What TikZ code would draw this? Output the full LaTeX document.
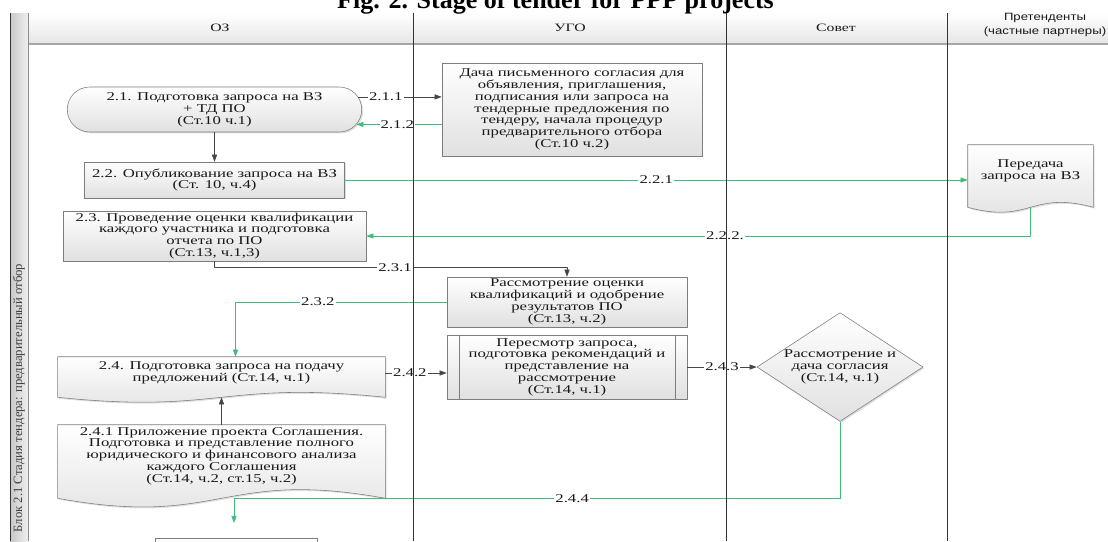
\documentclass[tikz,border=0pt]{standalone}
\usepackage{fontspec}
\setmainfont{Liberation Serif}
\newfontfamily\boxfont{Liberation Serif}[FakeStretch=1.4]
\newfontfamily\hdrsans{Liberation Sans}[FakeStretch=1.25]
\usepackage{tikz}
\usetikzlibrary{arrows.meta,calc,shapes.geometric,shapes.misc,shadows,backgrounds}
\definecolor{flowgreen}{RGB}{60,190,120}
\definecolor{linegray}{RGB}{70,70,70}
\definecolor{boxline}{RGB}{125,125,125}
\definecolor{txtgray}{RGB}{25,25,25}
\newcommand\boxtext{\boxfont\fontsize{8.5}{8.4}\selectfont}
\newcommand\docshape[3]{%
  \coordinate (#1-bl) at ($(#1.south west)+(0,#2)$);
  \coordinate (#1-br) at ($(#1.south east)+(0,#2)$);
  \coordinate (#1-base) at ($(#1.south)+(0,#2)$);
  \begin{scope}[on background layer]
    \path[draw=boxline, top color=white, bottom color=black!12,
      drop shadow={opacity=0.25,shadow xshift=1pt,shadow yshift=-1pt}]
      (#1.north west) -- (#1.north east) -- (#1-br)
      .. controls ($(#1-base)+(0,-#3)$) and ($(#1-base)+(0,#3)$) .. (#1-bl) -- cycle;
  \end{scope}}

\begin{document}
\begin{tikzpicture}[x=0.025cm, y=-0.025cm, >={Triangle[length=5pt,width=3.6pt]}, line join=round,
  procbox/.style={draw=boxline, top color=white, bottom color=black!12, text=txtgray,
    font=\boxtext, align=center, inner sep=1pt,
    drop shadow={opacity=0.25,shadow xshift=1pt,shadow yshift=-1pt}},
  docbox/.style={text=txtgray, font=\boxtext, align=center, inner sep=1pt},
  decbox/.style={procbox, diamond, aspect=1.5, inner sep=0pt, minimum width=4.15cm, minimum height=2.7cm},
  flowlbl/.style={fill=white, inner sep=0.8pt, text=txtgray, font=\boxtext},
  hdr/.style={text=txtgray, font=\boxfont\fontsize{8}{8}\selectfont}]
  \useasboundingbox (0,0) rectangle (1108,541);
  \shade[top color=white, bottom color=black!10] (28,13) rectangle (1108,44);
  \draw[black!35, line width=1pt] (28,44) -- (1108,44);
  \shade[left color=black!22, right color=black!6] (10,13) rectangle (28,541);
  \draw[black!80] (10,13) -- (10,541);
  \draw[black!45] (28,13) -- (28,541);
  \node[anchor=base, font=\bfseries\fontsize{18.5}{20}\selectfont] (title) at (555.5,8) {Fig. 2. Stage of tender for PPP projects};
  \node[hdr] (hoz) at (220,28) {ОЗ};
  \node[hdr] (hugo) at (570,28) {УГО};
  \node[hdr] (hsov) at (836,28) {Совет};
  \node[hdr, font=\hdrsans\fontsize{7.5}{10}\selectfont, align=center] (hpret) at (1045,25) {Претенденты\\(частные партнеры)};
  \node[rotate=90, text=black!75, font=\fontsize{9}{10}\selectfont] (hblock) at (19,398) {Блок 2.1 Стадия тендера: предварительный отбор};

  \node[procbox, rounded rectangle, minimum width=7.43cm, minimum height=1.125cm] (p21) at (214.5,109.5) {2.1. Подготовка запроса на ВЗ\\+ ТД ПО\\(Ст.10 ч.1)};
  \node[procbox, minimum width=6.5cm, minimum height=2.325cm] (p211) at (572,109.5) {Дача письменного согласия для\\объявления, приглашения,\\подписания или запроса на\\тендерные предложения по\\тендеру, начала процедур\\предварительного отбора\\(Ст.10 ч.2)};
  \node[procbox, minimum width=6.5cm, minimum height=0.9cm] (p22) at (214.5,180) {2.2. Опубликование запроса на ВЗ\\(Ст. 10, ч.4)};
  \node[docbox, minimum width=3.125cm, minimum height=1.3cm] (p221) at (1030.5,171) {Передача\\запроса на ВЗ};
  \docshape{p221}{10}{17}
  \node[procbox, minimum width=7.575cm, minimum height=1.25cm] (p23) at (214.5,236) {2.3. Проведение оценки квалификации\\каждого участника и подготовка\\отчета по ПО\\(Ст.13, ч.1,3)};
  \node[procbox, minimum width=6cm, minimum height=1.25cm] (p231) at (567,302) {Рассмотрение оценки\\квалификаций и одобрение\\результатов ПО\\(Ст.13, ч.2)};
  \node[docbox, minimum width=8.175cm, minimum height=0.8cm] (p24) at (221.5,373) {2.4. Подготовка запроса на подачу\\предложений (Ст.14, ч.1)};
  \docshape{p24}{8}{17}
  \node[procbox, minimum width=6cm, minimum height=1.6cm] (p242) at (567,367) {Пересмотр запроса,\\подготовка рекомендаций и\\представление на\\рассмотрение\\(Ст.14, ч.1)};
  \draw[boxline] ($(p242.north west)+(13,0)$) -- ($(p242.south west)+(13,0)$);
  \draw[boxline] ($(p242.north east)+(-12,0)$) -- ($(p242.south east)+(-12,0)$);
  \node[decbox] (p243) at (840,367) {Рассмотрение и\\дача согласия\\(Ст.14, ч.1)};
  \node[docbox, minimum width=8.175cm, minimum height=1.55cm] (p241) at (221.5,456) {2.4.1 Приложение проекта Соглашения.\\Подготовка и представление полного\\юридического и финансового анализа\\каждого Соглашения\\(Ст.14, ч.2, ст.15, ч.2)};
  \docshape{p241}{11}{30}
  \node[procbox, minimum width=4.05cm, minimum height=1cm] (p25) at (236,558) {};
  \coordinate (e244) at (234,523);

  \draw[->, linegray] (p21.5) -- (p21.5 -| p211.west) node[flowlbl, pos=0.33] {2.1.1};
  \draw[->, flowgreen] (p21.-6 -| p211.west) -- (p21.-6) node[flowlbl, pos=0.52] {2.1.2};
  \draw[->, linegray] (p21.south) -- (p22.north);
  \draw[->, flowgreen] (p22.east) -- (p22.east -| p221.west) node[flowlbl, pos=0.5] {2.2.1};
  \draw[->, flowgreen] (p221-base) |- (p23.east) node[flowlbl, pos=0.73] {2.2.2.};
  \draw[->, linegray] (p23.south) -- ++(0,6) -| (p231.north) node[flowlbl, pos=0.256] {2.3.1};
  \draw[->, flowgreen] (p231.west) -| ($(p24.north)+(14,0)$) node[flowlbl, pos=0.305] {2.3.2};
  \draw[->, linegray] (p241.north) -- (p24-base);
  \draw[->, linegray] (p24.east) -- (p24.east -| p242.west) node[flowlbl, pos=0.4] {2.4.2};
  \draw[->, linegray] (p242.east) -- (p243.west) node[flowlbl, pos=0.5] {2.4.3};
  \draw[->, flowgreen] (p243.south) |- (e244 |- p241-br) node[flowlbl, pos=0.721] {2.4.4} -- (e244);

  \foreach \x in {413,726,947}
    \draw[black!80] (\x,13) -- (\x,541);
\end{tikzpicture}
\end{document}
